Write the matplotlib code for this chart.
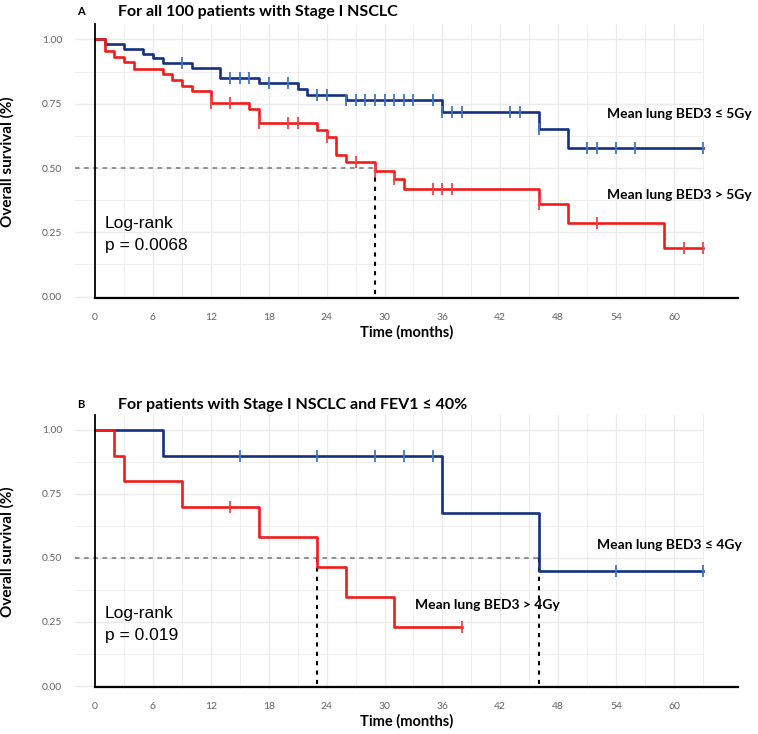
import numpy as np
import matplotlib
matplotlib.use("Agg")
import matplotlib.pyplot as plt

plt.rcParams['font.family'] = ['Lato', 'DejaVu Sans']

# panel A: all 100 patients
a_low_t = [0, 1, 3, 5, 6, 7, 10, 13, 17, 21, 22, 26, 36, 46, 49, 63]
a_low_s = [1.0, 0.984, 0.962, 0.945, 0.928, 0.91, 0.889, 0.851, 0.83, 0.809, 0.785, 0.763, 0.719, 0.652, 0.578, 0.578]
a_low_cens = [9, 14, 15, 16, 18, 20, 23, 24, 26, 27, 28, 29, 30, 31, 32, 33, 35, 36, 37, 38, 43, 44, 46, 51, 52, 54, 56, 63]

a_high_t = [0, 1, 2, 3, 4, 7, 8, 9, 10, 12, 16, 17, 23, 24, 25, 26, 29, 31, 32, 46, 49, 59, 63]
a_high_s = [1.0, 0.954, 0.932, 0.913, 0.886, 0.867, 0.844, 0.821, 0.799, 0.754, 0.728, 0.674, 0.648, 0.62, 0.552, 0.525, 0.49, 0.457, 0.418, 0.359, 0.287, 0.187, 0.187]
a_high_cens = [12, 14, 17, 20, 21, 24, 27, 29, 31, 35, 36, 37, 46, 52, 61, 63]
a_median = [29]

# panel B: FEV1 <= 40%
b_low_t = [0, 7, 36, 46, 63]
b_low_s = [1.0, 0.9, 0.675, 0.45, 0.45]
b_low_cens = [15, 23, 29, 32, 35, 54, 63]

b_high_t = [0, 2, 3, 9, 17, 23, 26, 31, 38]
b_high_s = [1.0, 0.9, 0.8, 0.7, 0.583, 0.466, 0.349, 0.232, 0.232]
b_high_cens = [14, 38]
b_median = [23, 46]

xticks = [0, 6, 12, 18, 24, 30, 36, 42, 48, 54, 60]
yticks = [0.0, 0.25, 0.5, 0.75, 1.0]
ytick_labels = ["0.00", "0.25", "0.50", "0.75", "1.00"]

BLUE = "#14307e"
BLUE_TICK = "#3f78c0"
RED = "#f21b1b"
RED_TICK = "#f04545"

fig = plt.figure(figsize=(7.58, 7.34), dpi=100)
axA = fig.add_axes([0.0986, 0.5925, 0.8747, 0.3747])
axB = fig.add_axes([0.0986, 0.0619, 0.8747, 0.3733])


def step_at(t, s, x):
    i = np.searchsorted(t, x, side='right') - 1
    return np.array(s)[i]


def km(ax, t, s, cens, color, tick_color):
    ax.step(t, s, where='post', color=color, lw=1.9, zorder=4)
    cens = np.array(cens)
    ax.plot(cens, step_at(np.array(t), s, cens), ls='none', marker='|',
            ms=9, mew=1.3, color=tick_color, zorder=5)


def base(ax):
    ax.set_xlim(-2.1, 66.6)
    ax.set_ylim(-0.01, 1.06)
    for sp in ax.spines.values():
        sp.set_visible(False)
    # panel grid, ggplot style
    for g in np.arange(0, 1.001, 0.125):
        ax.plot([-2.1, 63], [g, g], color="#ebebeb", lw=1.0 if g * 4 % 1 == 0 else 0.6, zorder=1)
    for g in np.arange(3, 64, 3):
        ax.plot([g, g], [-0.01, 1.06], color="#ebebeb", lw=1.0 if g % 6 == 0 else 0.6, zorder=1)
    ax.plot([0, 0], [-0.005, 1.06], color="black", lw=1.3, zorder=6, clip_on=False)
    ax.plot([0, 66.6], [-0.005, -0.005], color="black", lw=1.6, zorder=6, clip_on=False)
    ax.set_xticks(xticks)
    ax.set_yticks(yticks)
    ax.set_yticklabels(ytick_labels)
    ax.tick_params(axis='y', length=0, labelsize=7.5, labelcolor="#666666", pad=9)
    ax.tick_params(axis='x', length=0, labelsize=7.5, labelcolor="#666666", pad=10)
    ax.set_ylabel("Overall survival (%)", fontsize=11, fontweight='bold', labelpad=20)
    ax.set_xlabel("Time (months)", fontsize=10.5, fontweight='bold', labelpad=2)


base(axA)
axA.plot([-2.1, a_median[0]], [0.5, 0.5], ls=(0, (3, 3)), color="#777777", lw=1.1, zorder=3)
axA.plot([a_median[0], a_median[0]], [0.5, 0], ls=(0, (2, 2.5)), color="black", lw=1.5, zorder=3)
km(axA, a_low_t, a_low_s, a_low_cens, BLUE, BLUE_TICK)
km(axA, a_high_t, a_high_s, a_high_cens, RED, RED_TICK)
axA.text(53, 0.71, "Mean lung BED3 \u2264 5Gy", fontsize=10, fontweight='bold', va='center')
axA.text(53, 0.395, "Mean lung BED3 > 5Gy", fontsize=10, fontweight='bold', va='center')
axA.text(1, 0.24, "Log-rank\np = 0.0068", fontsize=12.5, family=['Liberation Sans', 'DejaVu Sans'],
         va='center', linespacing=1.6)
axA.text(0.004, 1.045, "A", transform=axA.transAxes, fontsize=8, fontweight='bold', va='center')
axA.text(0.065, 1.045, "For all 100 patients with Stage I NSCLC", transform=axA.transAxes,
         fontsize=11.5, fontweight='bold', va='center')

base(axB)
axB.plot([-2.1, b_median[1]], [0.5, 0.5], ls=(0, (3, 3)), color="#777777", lw=1.1, zorder=3)
for m in b_median:
    axB.plot([m, m], [0.5, 0], ls=(0, (2, 2.5)), color="black", lw=1.5, zorder=3)
km(axB, b_low_t, b_low_s, b_low_cens, BLUE, BLUE_TICK)
km(axB, b_high_t, b_high_s, b_high_cens, RED, RED_TICK)
axB.text(52, 0.55, "Mean lung BED3 \u2264 4Gy", fontsize=10, fontweight='bold', va='center')
axB.text(33.2, 0.315, "Mean lung BED3 > 4Gy", fontsize=10, fontweight='bold', va='center')
axB.text(1, 0.24, "Log-rank\np = 0.019", fontsize=12.5, family=['Liberation Sans', 'DejaVu Sans'],
         va='center', linespacing=1.6)
axB.text(0.004, 1.035, "B", transform=axB.transAxes, fontsize=8, fontweight='bold', va='center')
axB.text(0.065, 1.035, "For patients with Stage I NSCLC and FEV1 \u2264 40%", transform=axB.transAxes,
         fontsize=11.5, fontweight='bold', va='center')

fig.savefig("out.png", dpi=100)
